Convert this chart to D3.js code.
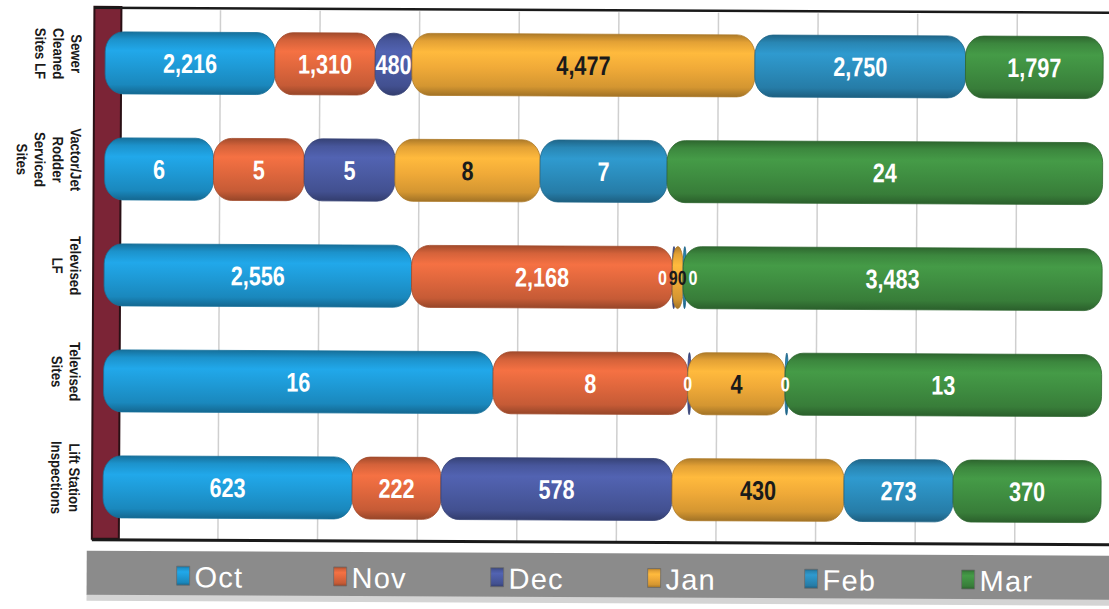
<!DOCTYPE html>
<html>
<head>
<meta charset="utf-8">
<script src="https://cdn.jsdelivr.net/npm/d3@7"></script>
<style>
  html, body { margin: 0; padding: 0; background: #fff; }
  svg { display: block; }
</style>
</head>
<body>
<div id="chart"></div>
<script>
// categories (top to bottom) and their wrapped label lines
var categories = ["Sewer Cleaned Sites LF", "Vactor/Jet Rodder Serviced Sites", "Televised LF", "Televised Sites", "Lift Station Inspections"];
var categoryLines = [["Sewer", "Cleaned", "Sites LF"], ["Vactor/Jet", "Rodder", "Serviced", "Sites"], ["Televised", "LF"], ["Televised", "Sites"], ["Lift Station", "Inspections"]];
var months = ["Oct", "Nov", "Dec", "Jan", "Feb", "Mar"];

// series values, one per category
var octValues = [2216, 6, 2556, 16, 623];
var novValues = [1310, 5, 2168, 8, 222];
var decValues = [480, 5, 0, 0, 578];
var janValues = [4477, 8, 90, 4, 430];
var febValues = [2750, 7, 0, 0, 273];
var marValues = [1797, 24, 3483, 13, 370];

var seriesColors = ["#1e9ad6", "#e0673d", "#4b5ba3", "#f0aa38", "#2b8dbd", "#3f8e41"];
var labelColors = ["#fff", "#fff", "#fff", "#1a1a1a", "#fff", "#fff"];

var width = 1109, height = 609;
var plotTop = 12, plotBottom = 542;
var narrow = 0.8; // squeeze Liberation Sans to look like Arial Narrow

var allValues = [octValues, novValues, decValues, janValues, febValues, marValues];
var rows = categories.map(function (c, i) {
    var row = {category: c};
    months.forEach(function (m, j) { row[m] = allValues[j][i]; });
    return row;
});

var stacked = d3.stack().keys(months).offset(d3.stackOffsetExpand)(rows);

var svg = d3.select("#chart").append("svg")
    .attr("width", width)
    .attr("height", height);

// the scan is a little tilted
var root = svg.append("g").attr("transform", "rotate(0.28, 555, 300)");

var defs = svg.append("defs");
seriesColors.forEach(function (c, i) {
    var base = d3.color(c);
    var g = defs.append("linearGradient")
        .attr("id", "cyl-" + i)
        .attr("x1", 0).attr("y1", 0).attr("x2", 0).attr("y2", 1);
    [[0, base.darker(0.9)], [0.12, base.darker(0.15)], [0.3, base.brighter(0.25)],
     [0.55, base], [0.85, base.darker(0.35)], [1, base.darker(1.1)]].forEach(function (s) {
        g.append("stop").attr("offset", s[0]).attr("stop-color", s[1] + "");
    });
});

var x = d3.scaleLinear().domain([0, 1]).range([104, 1102]);
// back wall sits a bit to the right of the bars (3D depth)
var xGrid = d3.scaleLinear().domain([0, 1]).range([119, 1115]);
var y = d3.scaleBand().domain(categories).range([plotTop, plotBottom]);
var barHeight = 62;

// gridlines on the back wall
root.append("g")
    .attr("class", "grid")
    .attr("transform", "translate(0," + plotBottom + ")")
    .call(d3.axisBottom(xGrid).ticks(10).tickSize(-(plotBottom - plotTop)).tickFormat(""))
    .call(function (g) {
        g.select(".domain").remove();
        g.selectAll("line").attr("stroke", "#cfcfcf").attr("stroke-width", 1.5);
    });

// maroon side wall
root.append("rect")
    .attr("x", 93).attr("y", plotTop - 3)
    .attr("width", 27).attr("height", plotBottom - plotTop + 2)
    .attr("fill", "#7b2436")
    .attr("stroke", "#2a1015").attr("stroke-width", 2);

// top and bottom frame lines
root.append("line")
    .attr("x1", 93).attr("x2", width + 10)
    .attr("y1", plotTop - 2).attr("y2", plotTop - 2)
    .attr("stroke", "#1a1a1a").attr("stroke-width", 2.5);
root.append("line")
    .attr("x1", 93).attr("x2", width + 10)
    .attr("y1", plotBottom).attr("y2", plotBottom)
    .attr("stroke", "#1a1a1a").attr("stroke-width", 3);

// stacked cylinder segments
var layers = root.selectAll("g.layer")
    .data(stacked)
    .enter().append("g")
    .attr("class", "layer");

layers.selectAll("rect")
    .data(function (d) { return d; })
    .enter().append("rect")
    .attr("x", function (d) { return x(d[0]); })
    .attr("y", function (d) { return y(d.data.category) + (y.bandwidth() - barHeight) / 2; })
    .attr("height", barHeight)
    .attr("width", function (d) { return Math.max(3, x(d[1]) - x(d[0])); })
    .attr("rx", 18).attr("ry", 20)
    .attr("fill", function (d, i, nodes) {
        var k = d3.select(nodes[i].parentNode).datum().index;
        return "url(#cyl-" + k + ")";
    })
    .attr("stroke", function (d, i, nodes) {
        var k = d3.select(nodes[i].parentNode).datum().index;
        return d3.color(seriesColors[k]).darker(0.9) + "";
    })
    .attr("stroke-width", 0.8);

// value labels (drawn on top of all bars)
var labelLayer = root.append("g").attr("class", "labels");
var labelItems = [];
stacked.forEach(function (layer) {
    layer.forEach(function (d) {
        var segW = x(d[1]) - x(d[0]);
        var t = labelLayer.append("text")
            .attr("text-anchor", "middle")
            .attr("dy", "0.36em")
            .attr("font-family", "'Liberation Sans', Arial, sans-serif")
            .attr("font-weight", "bold")
            .attr("font-size", segW < 24 ? "20px" : "27px")
            .attr("fill", labelColors[layer.index])
            .text(d3.format(",")(d.data[layer.key]));
        labelItems.push({
            node: t,
            category: d.data.category,
            cx: (x(d[0]) + x(d[1])) / 2,
            w: t.node().getComputedTextLength() * narrow
        });
    });
});

// nudge labels apart where tiny segments crowd together
categories.forEach(function (c) {
    var row = labelItems.filter(function (l) { return l.category === c; })
        .sort(function (a, b) { return a.cx - b.cx; });
    for (var it = 0; it < 30; it++) {
        for (var k = 1; k < row.length; k++) {
            var a = row[k - 1], b = row[k];
            var overlap = (a.cx + a.w / 2 + 2) - (b.cx - b.w / 2);
            if (overlap > 0) { a.cx -= overlap / 2; b.cx += overlap / 2; }
        }
    }
    row.forEach(function (l) {
        l.node.attr("transform", "translate(" + l.cx + "," + (y(c) + y.bandwidth() / 2) + ") scale(" + narrow + ",1)");
    });
});

// category labels, rotated to read top to bottom
root.selectAll("text.cat")
    .data(categories)
    .enter().append("text")
    .attr("class", "cat")
    .attr("transform", function (d) { return "translate(70," + (y(d) + y.bandwidth() / 2 - 9) + ") rotate(90) scale(0.88,1)"; })
    .attr("text-anchor", "middle")
    .attr("font-family", "'Liberation Sans', Arial, sans-serif")
    .attr("font-weight", "bold")
    .attr("font-size", "15px")
    .attr("fill", "#1a1a1a")
    .each(function (d, i) {
        var t = d3.select(this);
        categoryLines[i].forEach(function (line, j) {
            t.append("tspan").attr("x", 0).attr("dy", j === 0 ? 0 : 18).text(line);
        });
    });

// legend strip
var legend = root.append("g").attr("class", "legend");
legend.append("rect")
    .attr("x", 88).attr("y", 596)
    .attr("width", width).attr("height", 7)
    .attr("fill", "#d4d4d4");
legend.append("rect")
    .attr("x", 88).attr("y", 553)
    .attr("width", width).attr("height", 44)
    .attr("fill", "#8b8b8b");

var xl = d3.scaleBand().domain(months).range([172, 1114]);
var items = legend.selectAll("g.item")
    .data(months)
    .enter().append("g")
    .attr("class", "item")
    .attr("transform", function (m) { return "translate(" + (xl(m) + 6) + ",0)"; });

items.append("rect")
    .attr("x", 0).attr("y", 568)
    .attr("width", 13).attr("height", 19)
    .attr("fill", function (m, i) { return "url(#cyl-" + i + ")"; })
    .attr("stroke", "#6a6a6a").attr("stroke-width", 0.8);

items.append("text")
    .attr("x", 18).attr("y", 589)
    .attr("font-family", "'Liberation Sans', Arial, sans-serif")
    .attr("font-size", "29px")
    .attr("letter-spacing", "1.2px")
    .attr("fill", "#fff")
    .text(function (m) { return m; });
</script>
</body>
</html>
